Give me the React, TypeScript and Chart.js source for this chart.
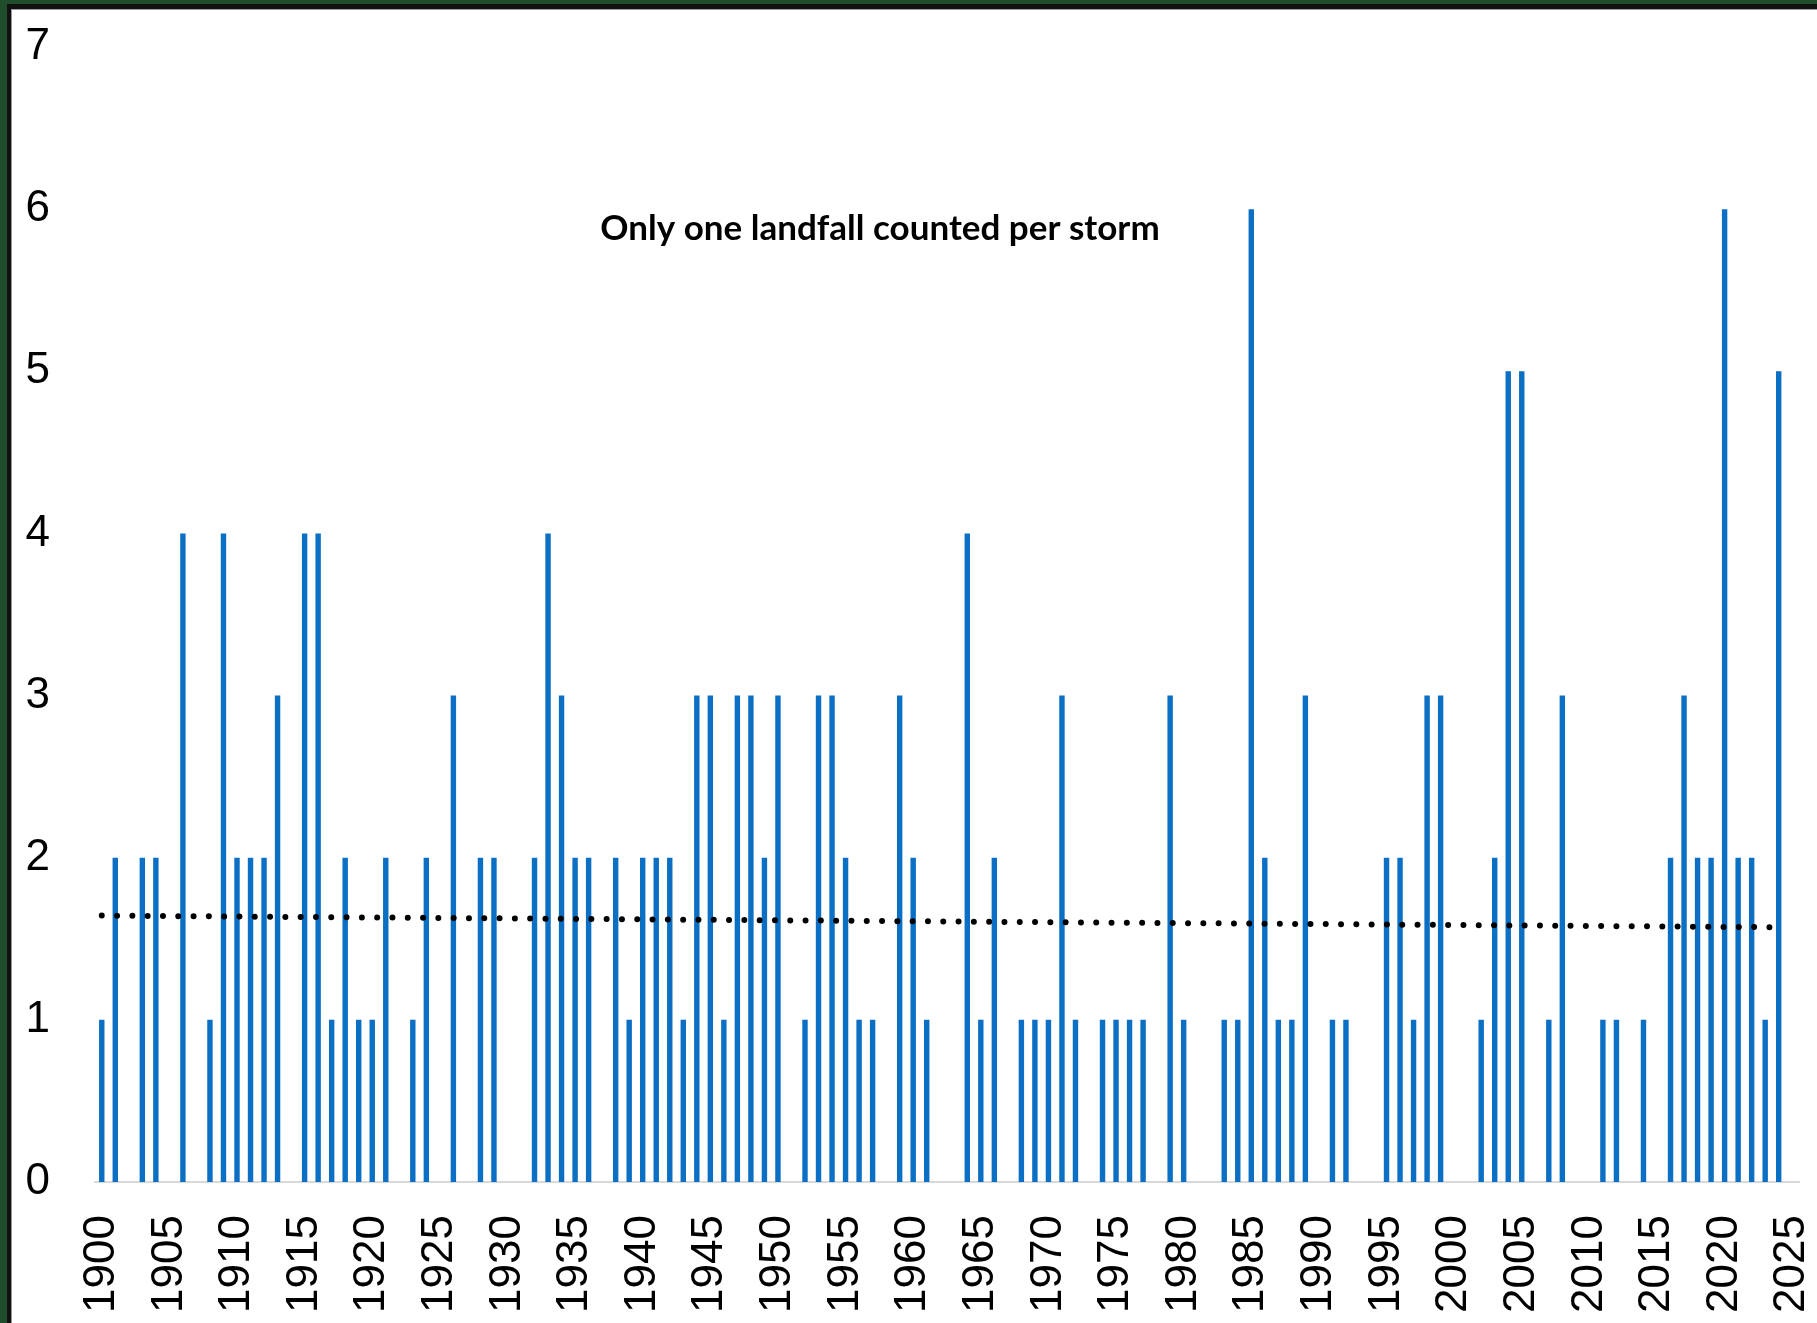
import React, { useEffect, useRef } from "react";
import { Chart, registerables } from "chart.js";

Chart.register(...registerables);

// ---- data ----
const years: string[] = [];
for (let y = 1900; y <= 2025; y++) years.push(String(y));

const landfalls: number[] = [
  // 1900-1909
  1, 2, 0, 2, 2, 0, 4, 0, 1, 4,
  // 1910-1919
  2, 2, 2, 3, 0, 4, 4, 1, 2, 1,
  // 1920-1929
  1, 2, 0, 1, 2, 0, 3, 0, 2, 2,
  // 1930-1939
  0, 0, 2, 4, 3, 2, 2, 0, 2, 1,
  // 1940-1949
  2, 2, 2, 1, 3, 3, 1, 3, 3, 2,
  // 1950-1959
  3, 0, 1, 3, 3, 2, 1, 1, 0, 3,
  // 1960-1969
  2, 1, 0, 0, 4, 1, 2, 0, 1, 1,
  // 1970-1979
  1, 3, 1, 0, 1, 1, 1, 1, 0, 3,
  // 1980-1989
  1, 0, 0, 1, 1, 6, 2, 1, 1, 3,
  // 1990-1999
  0, 1, 1, 0, 0, 2, 2, 1, 3, 3,
  // 2000-2009
  0, 0, 1, 2, 5, 5, 0, 1, 3, 0,
  // 2010-2019
  0, 1, 1, 0, 1, 0, 2, 3, 2, 2,
  // 2020-2025
  6, 2, 2, 1, 5, 0,
];

const trendYears: string[] = ["1900", "2024"];
const trendValues: number[] = [1.643, 1.571];

const xTickLabels: string[] = [
  "1900", "1905", "1910", "1915", "1920", "1925", "1930", "1935", "1940",
  "1945", "1950", "1955", "1960", "1965", "1970", "1975", "1980", "1985",
  "1990", "1995", "2000", "2005", "2010", "2015", "2020", "2025",
];
const yTicks: number[] = [0, 1, 2, 3, 4, 5, 6, 7];

const noteText = "Only one landfall counted per storm";

// ---- layout ----
const W = 1817;
const H = 1323;
const TICK_FONT = "'Liberation Sans', Arial, sans-serif";
const NOTE_FONT = "Lato, 'Liberation Sans', sans-serif";

const notePlugin = {
  id: "notePlugin",
  afterDatasetsDraw(chart: any) {
    const { ctx, chartArea, scales } = chart;
    const x = chartArea.left + (chartArea.right - chartArea.left) * 0.4607;
    const y = scales.y.getPixelForValue(5.88);
    ctx.save();
    ctx.font = `bold 35px ${NOTE_FONT}`;
    ctx.fillStyle = "#000";
    ctx.textAlign = "center";
    ctx.textBaseline = "middle";
    ctx.fillText(noteText, x, y);
    ctx.restore();
  },
};

export default function App() {
  const ref = useRef<HTMLCanvasElement | null>(null);

  useEffect(() => {
    if (!ref.current) return;
    const chart = new Chart(ref.current, {
      type: "bar",
      data: {
        labels: years,
        datasets: [
          {
            type: "line",
            label: "Trend",
            data: trendYears.map((yr, i) => ({ x: yr, y: trendValues[i] })) as any,
            borderColor: "#000",
            borderWidth: 6,
            borderDash: [0, 15.3],
            borderCapStyle: "round",
            pointRadius: 0,
            fill: false,
            spanGaps: true,
            order: 0,
          } as any,
          {
            type: "bar",
            label: "Landfalls",
            data: landfalls,
            backgroundColor: "#0B6FC4",
            borderWidth: 0,
            barPercentage: 0.4,
            categoryPercentage: 1.0,
            order: 1,
          },
        ],
      },
      options: {
        responsive: false,
        animation: false,
        events: [],
        layout: { padding: { left: 0, top: 47, right: 18, bottom: 0 } },
        plugins: {
          legend: { display: false },
          tooltip: { enabled: false },
          title: { display: false },
        },
        scales: {
          x: {
            type: "category",
            offset: true,
            grid: { display: false, drawTicks: false },
            border: { display: true, color: "#d9d9d9", width: 2 },
            ticks: {
              autoSkip: false,
              minRotation: 90,
              maxRotation: 90,
              padding: 33,
              color: "#000",
              font: { family: TICK_FONT, size: 44 },
              callback: (_v: any, i: number) =>
                xTickLabels.includes(years[i]) ? years[i] : "",
            },
            afterFit: (s: any) => {
              s.height = 141;
              s.paddingLeft = 0;
              s.paddingRight = 0;
            },
          },
          y: {
            min: 0,
            max: 7,
            afterBuildTicks: (s: any) => {
              s.ticks = yTicks.map((v) => ({ value: v }));
            },
            grid: { display: false, drawTicks: false },
            border: { display: false },
            ticks: {
              color: "#000",
              padding: 45,
              font: { family: TICK_FONT, size: 44 },
            },
            afterFit: (s: any) => {
              s.width = 95;
              s.paddingTop = 0;
              s.paddingBottom = 0;
            },
          },
        },
      },
      plugins: [notePlugin],
    });
    return () => chart.destroy();
  }, []);

  return (
    <div
      style={{
        position: "fixed",
        left: 0,
        top: 0,
        width: W,
        height: H,
        background: "#fff",
        overflow: "hidden",
      }}
    >
      <canvas
        ref={ref}
        width={W}
        height={H}
        style={{ position: "absolute", left: 0, top: 0, width: W, height: H }}
      />
      {/* frame: green outer band, black inner line (left and top only) */}
      <div style={{ position: "absolute", left: 0, top: 0, width: 7, height: H, background: "#1F4D2B" }} />
      <div style={{ position: "absolute", left: 0, top: 0, width: W, height: 4, background: "#1F4D2B" }} />
      <div style={{ position: "absolute", left: 7, top: 4, width: 4, height: H - 4, background: "#111" }} />
      <div style={{ position: "absolute", left: 7, top: 4, width: W - 7, height: 5, background: "#111" }} />
      <div style={{ position: "absolute", left: 11, top: 9, width: 1, height: H - 9, background: "#999" }} />
      <div style={{ position: "absolute", left: 11, top: 9, width: W - 11, height: 1, background: "#999" }} />
    </div>
  );
}
